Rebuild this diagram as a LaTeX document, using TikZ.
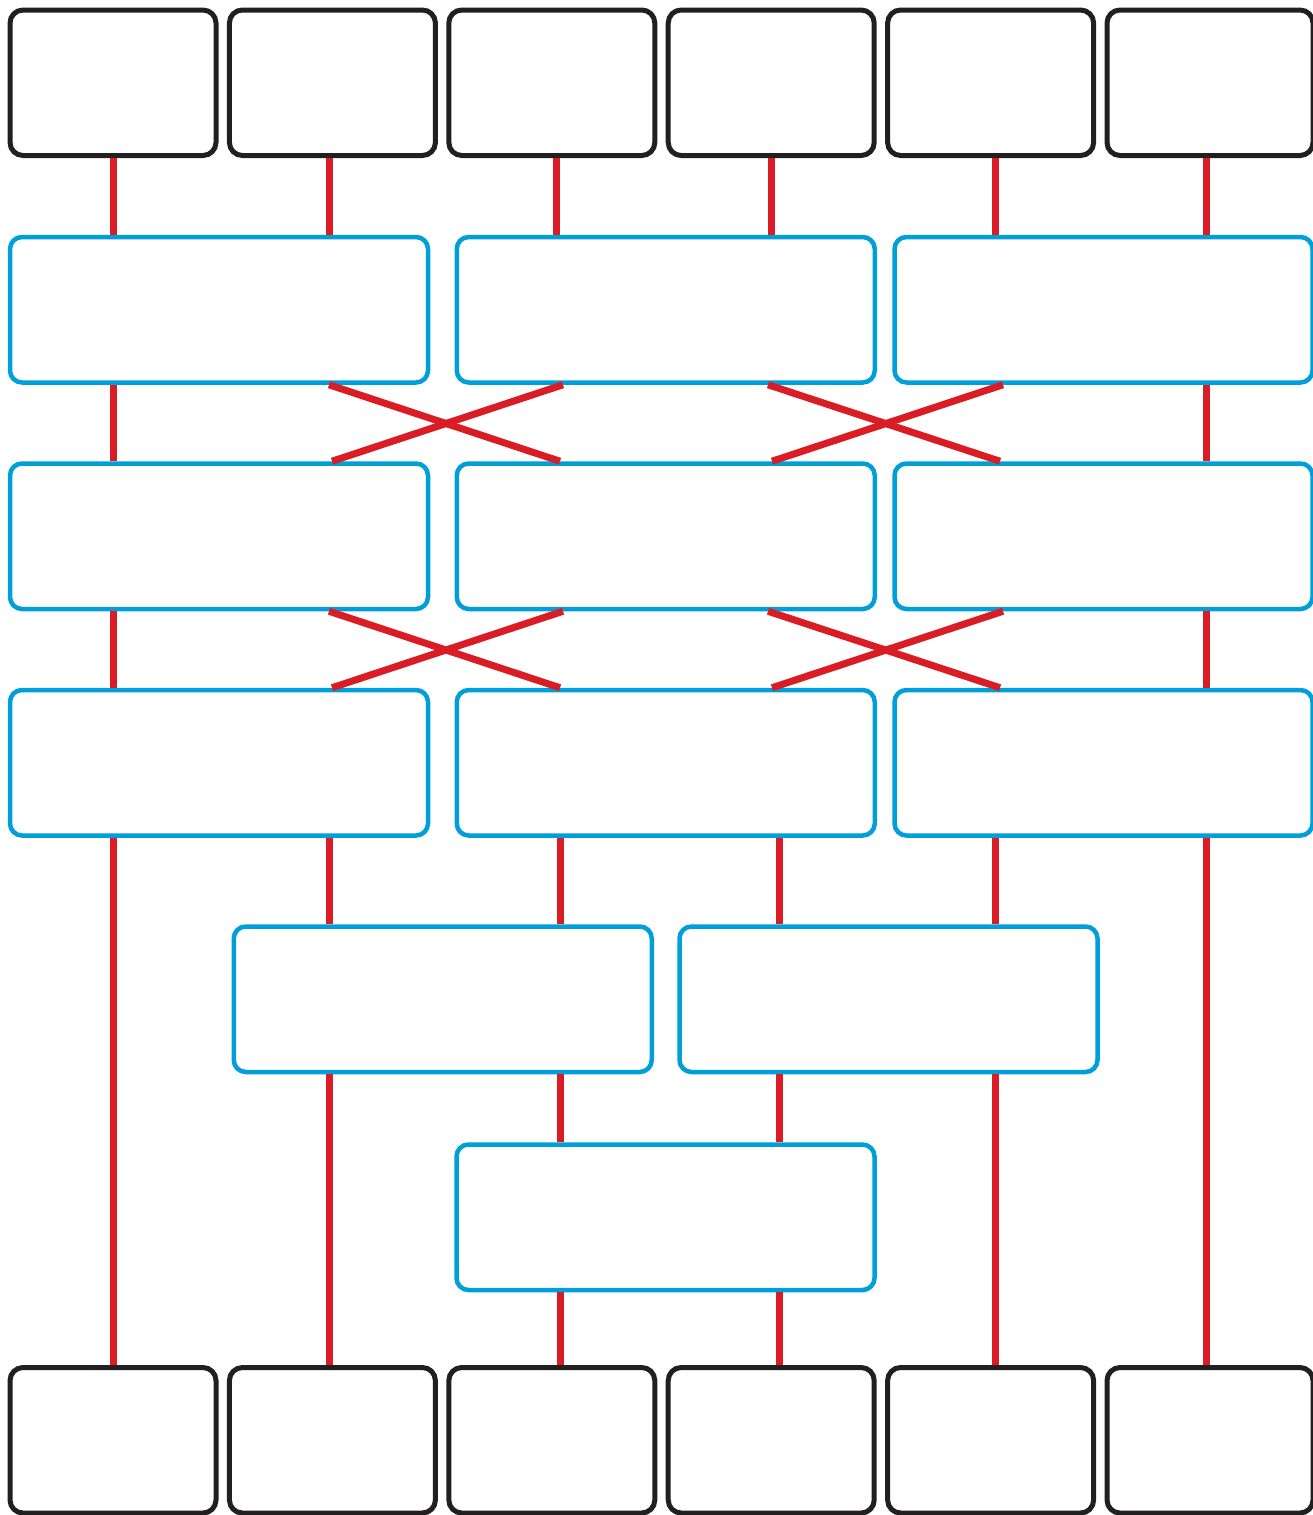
\documentclass[tikz,border=0pt]{standalone}
\usepackage{tikz}
\usetikzlibrary{positioning}
\definecolor{portblack}{RGB}{35,31,32}
\definecolor{wirered}{RGB}{218,28,36}
\definecolor{stageblue}{RGB}{0,159,218}
\tikzset{
  port/.style={rectangle,draw=portblack,line width=5pt,rounded corners=13pt,inner sep=0pt,minimum width=206pt,minimum height=145.5pt},
  stage/.style={rectangle,draw=stageblue,line width=4.5pt,rounded corners=12pt,inner sep=0pt,minimum width=418pt,minimum height=145.5pt},
  wire/.style={draw=wirered,line width=7pt}
}

\begin{document}
\begin{tikzpicture}[x=1pt,y=-1pt,node distance=8.4pt and 8.4pt]
\useasboundingbox (0,0) rectangle (1312,1515);
% inputs
\node[port] (t1) at (113,82.75) {};
\node[port, right=of t1] (t2) {};
\node[port, right=of t2] (t3) {};
\node[port, right=of t3] (t4) {};
\node[port, right=of t4] (t5) {};
\node[port, right=of t5] (t6) {};
% stages
\node[stage] (a1) at (219,309.75) {};
\node[stage] (a2) at (665.75,309.75) {};
\node[stage] (a3) at (1103.5,309.75) {};
\node[stage, below=76.5pt of a1] (b1) {};
\node[stage, below=76.5pt of a2] (b2) {};
\node[stage, below=76.5pt of a3] (b3) {};
\node[stage, below=76.5pt of b1] (c1) {};
\node[stage, below=76.5pt of b2] (c2) {};
\node[stage, below=76.5pt of b3] (c3) {};
\node[stage] (d1) at (442.75,999.25) {};
\node[stage] (d2) at (888.5,999.25) {};
\node[stage] (e1) at (665.5,1217.25) {};
% outputs
\node[port] (u1) at (113,1440.25) {};
\node[port, right=of u1] (u2) {};
\node[port, right=of u2] (u3) {};
\node[port, right=of u3] (u4) {};
\node[port, right=of u4] (u5) {};
\node[port, right=of u5] (u6) {};
% inputs to first stage
\draw[wire] (t1.south -| 113,0) -- (a1.north -| 113,0);
\draw[wire] (t2.south -| 329,0) -- (a1.north -| 329,0);
\draw[wire] (t3.south -| 556,0) -- (a2.north -| 556,0);
\draw[wire] (t4.south -| 771,0) -- (a2.north -| 771,0);
\draw[wire] (t5.south -| 995,0) -- (a3.north -| 995,0);
\draw[wire] (t6.south -| 1206,0) -- (a3.north -| 1206,0);
% first to second stage
\draw[wire] (a1.south -| 113,0) -- (b1.north -| 113,0);
\draw[wire] (a1.south -| 329,0) -- (b2.north -| 560,0);
\draw[wire] (a2.south -| 563,0) -- (b1.north -| 332,0);
\draw[wire] (a2.south -| 768,0) -- (b3.north -| 1000,0);
\draw[wire] (a3.south -| 1003,0) -- (b2.north -| 772,0);
\draw[wire] (a3.south -| 1206,0) -- (b3.north -| 1206,0);
% second to third stage
\draw[wire] (b1.south -| 113,0) -- (c1.north -| 113,0);
\draw[wire] (b1.south -| 329,0) -- (c2.north -| 560,0);
\draw[wire] (b2.south -| 563,0) -- (c1.north -| 332,0);
\draw[wire] (b2.south -| 768,0) -- (c3.north -| 1000,0);
\draw[wire] (b3.south -| 1003,0) -- (c2.north -| 772,0);
\draw[wire] (b3.south -| 1206,0) -- (c3.north -| 1206,0);
% third stage onwards
\draw[wire] (c1.south -| 113,0) -- (u1.north -| 113,0);
\draw[wire] (c1.south -| 329,0) -- (d1.north -| 329,0);
\draw[wire] (c2.south -| 560,0) -- (d1.north -| 560,0);
\draw[wire] (c2.south -| 779,0) -- (d2.north -| 779,0);
\draw[wire] (c3.south -| 995,0) -- (d2.north -| 995,0);
\draw[wire] (c3.south -| 1206,0) -- (u6.north -| 1206,0);
\draw[wire] (d1.south -| 329,0) -- (u2.north -| 329,0);
\draw[wire] (d1.south -| 560,0) -- (e1.north -| 560,0);
\draw[wire] (d2.south -| 779,0) -- (e1.north -| 779,0);
\draw[wire] (d2.south -| 995,0) -- (u5.north -| 995,0);
\draw[wire] (e1.south -| 560,0) -- (u3.north -| 560,0);
\draw[wire] (e1.south -| 779,0) -- (u4.north -| 779,0);
\end{tikzpicture}
\end{document}
